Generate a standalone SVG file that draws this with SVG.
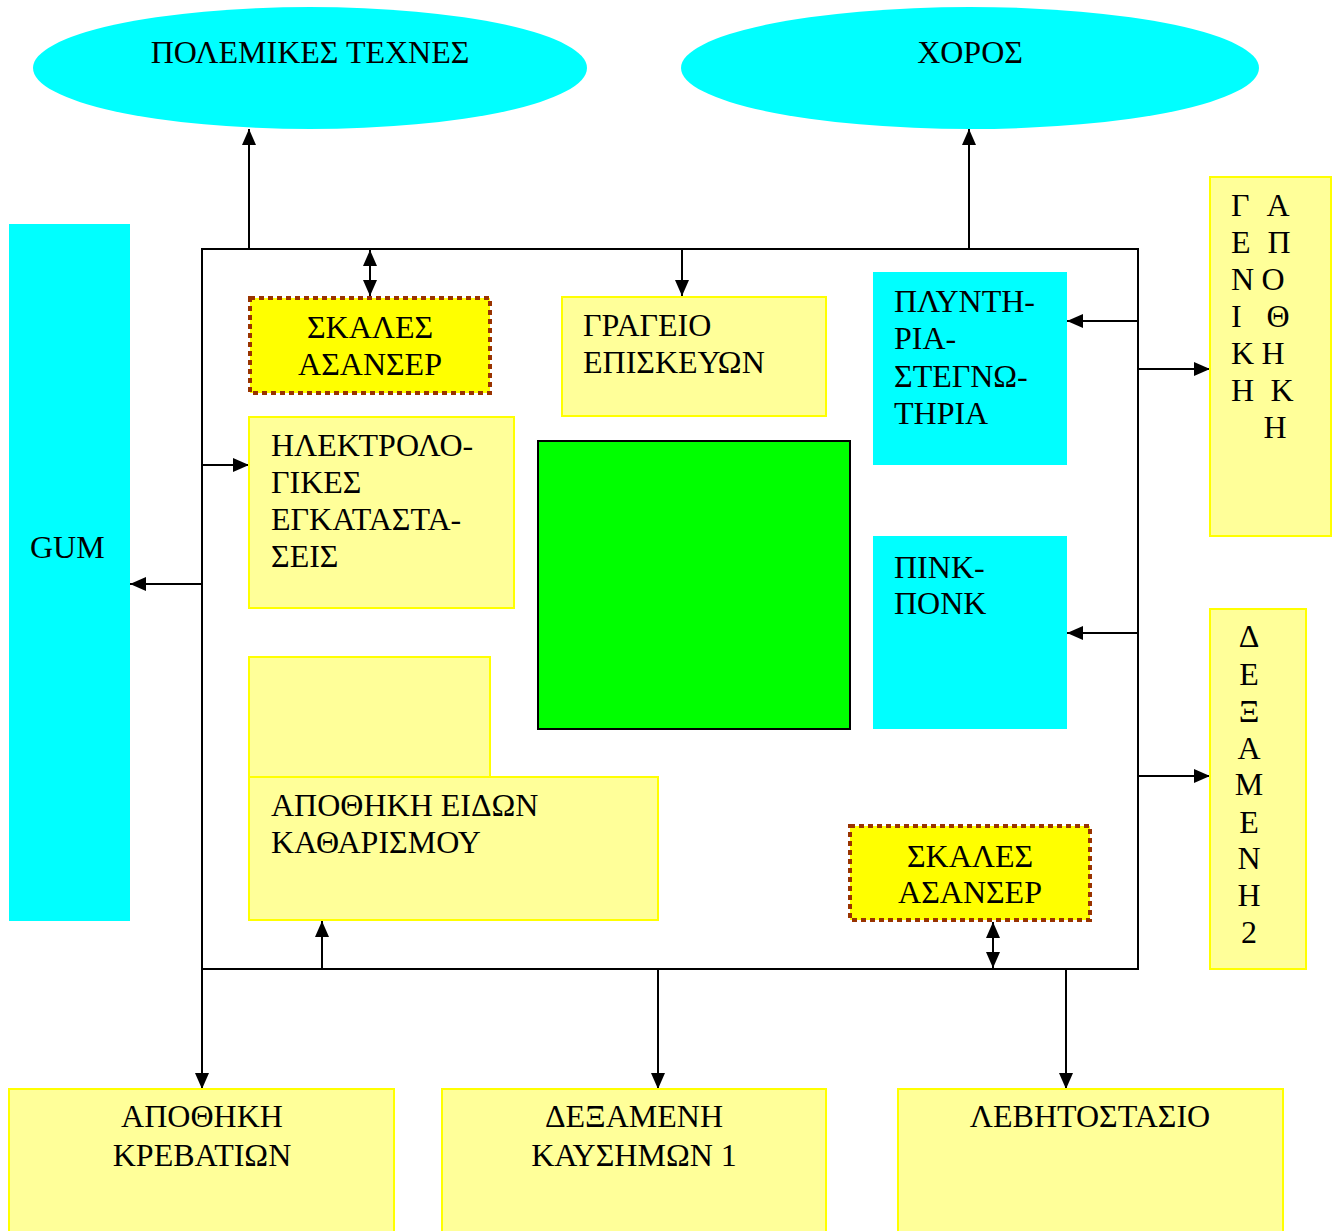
<svg xmlns="http://www.w3.org/2000/svg" width="1333" height="1231" viewBox="0 0 1333 1231">
<style>
text{font-family:"Liberation Serif","Times New Roman",serif;font-size:32px;fill:#000}
.c{text-anchor:middle}
.pale{fill:#ffff99;stroke:#ffff00;stroke-width:2}
.cyan{fill:#00ffff;stroke:none}
.stair{fill:#ffff00;stroke:#993300;stroke-width:4;stroke-dasharray:5 4}
.ln{fill:none;stroke:#000;stroke-width:2}
</style>
<defs>
<marker id="ah" markerUnits="userSpaceOnUse" markerWidth="17" markerHeight="14" refX="16" refY="7" orient="auto-start-reverse">
<path d="M0,0 L16,7 L0,14 Z" fill="#000"/>
</marker>
</defs>
<rect width="1333" height="1231" fill="#fff"/>

<g id="connectors">
<rect x="202" y="249" width="936" height="720" class="ln"/>
<line x1="249" y1="249" x2="249" y2="129" class="ln" marker-end="url(#ah)"/>
<line x1="969" y1="249" x2="969" y2="129" class="ln" marker-end="url(#ah)"/>
<line x1="370" y1="250" x2="370" y2="296" class="ln" marker-start="url(#ah)" marker-end="url(#ah)"/>
<line x1="682" y1="249" x2="682" y2="296" class="ln" marker-end="url(#ah)"/>
<line x1="1138" y1="321" x2="1067" y2="321" class="ln" marker-end="url(#ah)"/>
<line x1="1138" y1="369" x2="1210" y2="369" class="ln" marker-end="url(#ah)"/>
<line x1="1138" y1="633" x2="1067" y2="633" class="ln" marker-end="url(#ah)"/>
<line x1="1138" y1="776" x2="1210" y2="776" class="ln" marker-end="url(#ah)"/>
<line x1="202" y1="465" x2="249" y2="465" class="ln" marker-end="url(#ah)"/>
<line x1="202" y1="584" x2="130" y2="584" class="ln" marker-end="url(#ah)"/>
<line x1="322" y1="969" x2="322" y2="921" class="ln" marker-end="url(#ah)"/>
<line x1="993" y1="922" x2="993" y2="968" class="ln" marker-start="url(#ah)" marker-end="url(#ah)"/>
<line x1="202" y1="969" x2="202" y2="1089" class="ln" marker-end="url(#ah)"/>
<line x1="658" y1="969" x2="658" y2="1089" class="ln" marker-end="url(#ah)"/>
<line x1="1066" y1="969" x2="1066" y2="1089" class="ln" marker-end="url(#ah)"/>
</g>

<g id="polemikes">
<ellipse cx="310" cy="68" rx="277" ry="61" class="cyan"/>
<text x="310" y="63" class="c">ΠΟΛΕΜΙΚΕΣ ΤΕΧΝΕΣ</text>
</g>
<g id="xoros">
<ellipse cx="970" cy="68" rx="289" ry="61" class="cyan"/>
<text x="970" y="63" class="c">ΧΟΡΟΣ</text>
</g>
<g id="gum">
<rect x="9" y="224" width="121" height="697" class="cyan"/>
<text x="30" y="558">GUM</text>
</g>
<g id="skales1">
<rect x="250" y="298" width="240" height="95" class="stair"/>
<text x="370" y="338" class="c">ΣΚΑΛΕΣ</text>
<text x="370" y="375" class="c">ΑΣΑΝΣΕΡ</text>
</g>
<g id="grafeio">
<rect x="562" y="297" width="264" height="119" class="pale"/>
<text x="583" y="336">ΓΡΑΓΕΙΟ</text>
<text x="583" y="373">ΕΠΙΣΚΕΥΩΝ</text>
</g>
<g id="plyntiria">
<rect x="873" y="272" width="194" height="193" class="cyan"/>
<text x="894" y="312">ΠΛΥΝΤΗ-</text>
<text x="894" y="349">ΡΙΑ-</text>
<text x="894" y="387">ΣΤΕΓΝΩ-</text>
<text x="894" y="424">ΤΗΡΙΑ</text>
</g>
<g id="pingpong">
<rect x="873" y="536" width="194" height="193" class="cyan"/>
<text x="894" y="578">ΠΙΝΚ-</text>
<text x="894" y="614">ΠΟΝΚ</text>
</g>
<g id="ilektrologikes">
<rect x="249" y="417" width="265" height="191" class="pale"/>
<text x="271" y="456">ΗΛΕΚΤΡΟΛΟ-</text>
<text x="271" y="493">ΓΙΚΕΣ</text>
<text x="271" y="530">ΕΓΚΑΤΑΣΤΑ-</text>
<text x="271" y="567">ΣΕΙΣ</text>
</g>
<g id="green">
<rect x="538" y="441" width="312" height="288" fill="#00ff00" stroke="#000" stroke-width="2"/>
</g>
<g id="apothiki-eidon">
<rect x="249" y="657" width="241" height="120" class="pale"/>
<rect x="249" y="777" width="409" height="143" class="pale"/>
<text x="271" y="816">ΑΠΟΘΗΚΗ ΕΙΔΩΝ</text>
<text x="271" y="853">ΚΑΘΑΡΙΣΜΟΥ</text>
</g>
<g id="skales2">
<rect x="850" y="826" width="240" height="94" class="stair"/>
<text x="970" y="867" class="c">ΣΚΑΛΕΣ</text>
<text x="970" y="903" class="c">ΑΣΑΝΣΕΡ</text>
</g>
<g id="geniki-apothiki">
<rect x="1210" y="177" width="121" height="359" class="pale"/>
<text x="1231" y="216">Γ</text><text x="1278" y="216" class="c">Α</text>
<text x="1231" y="253">Ε</text><text x="1279" y="253" class="c">Π</text>
<text x="1231" y="290">Ν</text><text x="1273" y="290" class="c">Ο</text>
<text x="1231" y="327">Ι</text><text x="1278" y="327" class="c">Θ</text>
<text x="1231" y="364">Κ</text><text x="1273" y="364" class="c">Η</text>
<text x="1231" y="401">Η</text><text x="1282" y="401" class="c">Κ</text>
<text x="1275" y="438" class="c">Η</text>
</g>
<g id="dexameni2">
<rect x="1210" y="609" width="96" height="360" class="pale"/>
<text x="1249" y="647" class="c">Δ</text>
<text x="1249" y="685" class="c">Ε</text>
<text x="1249" y="722" class="c">Ξ</text>
<text x="1249" y="759" class="c">Α</text>
<text x="1249" y="795" class="c">Μ</text>
<text x="1249" y="833" class="c">Ε</text>
<text x="1249" y="869" class="c">Ν</text>
<text x="1249" y="906" class="c">Η</text>
<text x="1249" y="943" class="c">2</text>
</g>
<g id="apothiki-krevation">
<rect x="9" y="1089" width="385" height="150" class="pale"/>
<text x="202" y="1127" class="c">ΑΠΟΘΗΚΗ</text>
<text x="202" y="1166" class="c">ΚΡΕΒΑΤΙΩΝ</text>
</g>
<g id="dexameni1">
<rect x="442" y="1089" width="384" height="150" class="pale"/>
<text x="634" y="1127" class="c">ΔΕΞΑΜΕΝΗ</text>
<text x="634" y="1166" class="c">ΚΑΥΣΗΜΩΝ 1</text>
</g>
<g id="levitostasio">
<rect x="898" y="1089" width="385" height="150" class="pale"/>
<text x="1090" y="1127" class="c">ΛΕΒΗΤΟΣΤΑΣΙΟ</text>
</g>
</svg>
